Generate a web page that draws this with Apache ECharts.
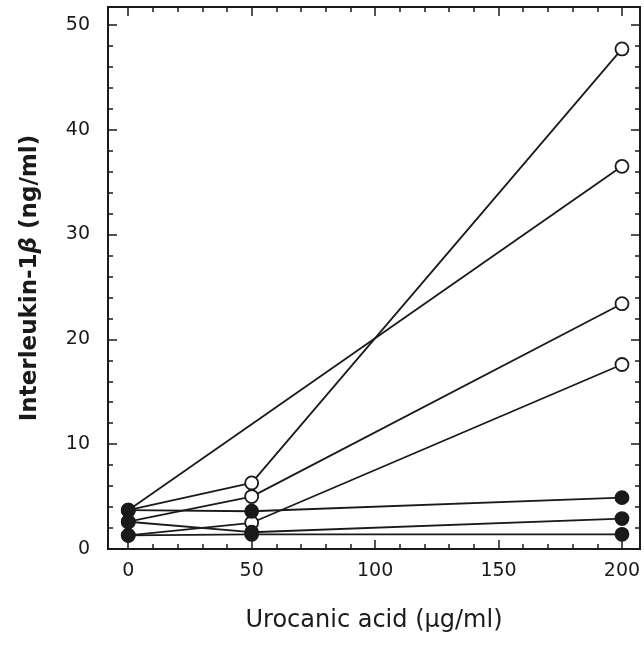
<!DOCTYPE html>
<html>
<head>
<meta charset="utf-8">
<script src="https://cdn.jsdelivr.net/npm/echarts@6/dist/echarts.min.js"></script>
<style>
  html, body { margin: 0; padding: 0; background: #fff; }
  #chart { width: 644px; height: 646px; }
</style>
</head>
<body>
<div id="chart"></div>
<script>
// x positions (urocanic acid, ug/ml)
var doses = [0, 50, 200];

// open circle donors (null = no point at that dose)
var open1 = [3.7, 6.3, 47.7];
var open2 = [3.7, null, 36.5];
var open3 = [2.6, 5.0, 23.4];
var open4 = [1.3, 2.5, 17.6];

// filled circle donors
var filled1 = [3.7, 3.6, 4.9];
var filled2 = [2.6, 1.6, 2.9];
var filled3 = [1.3, 1.4, 1.4];

var xMajor = [0, 50, 100, 150, 200];
var xMinor = [10, 20, 30, 40, 60, 70, 80, 90, 110, 120, 130, 140, 160, 170, 180, 190];
var yMajor = [0, 10, 20, 30, 40, 50];
var yMinor = [2, 4, 6, 8, 12, 14, 16, 18, 22, 24, 26, 28, 32, 34, 36, 38, 42, 44, 46, 48];

var FONT = 'DejaVu Sans';
var INK = '#1a1a1a';

function toPoints(vals) {
	var pts = [];
	for (var i = 0; i < doses.length; i++) {
		if (vals[i] !== null) pts.push([doses[i], vals[i]]);
	}
	return pts;
}

function makeSeries(vals, filled) {
	return {
		type: 'line',
		data: toPoints(vals),
		symbol: 'circle',
		symbolSize: 13,
		showAllSymbol: true,
		lineStyle: { color: INK, width: 1.8 },
		itemStyle: {
			color: filled ? INK : '#fff',
			borderColor: INK,
			borderWidth: 1.8
		},
		z: filled ? 4 : 3
	};
}

// axis that only carries a set of ticks (inner ticks on all four sides)
function tickAxis(kind, pos, values, len) {
	var ax = {
		type: 'value',
		position: pos,
		axisLine: { show: false, onZero: false },
		axisTick: { show: true, inside: true, length: len, customValues: values,
			lineStyle: { color: INK, width: 1.5 } },
		axisLabel: { show: false },
		splitLine: { show: false }
	};
	if (kind == 'x') { ax.min = -8.2; ax.max = 207.3; }
	else { ax.min = 0; ax.max = 51.7; }
	return ax;
}

var chart = echarts.init(document.getElementById('chart'));

var xMain = tickAxis('x', 'bottom', xMajor, 9);
xMain.axisLabel = { show: true, customValues: xMajor, margin: 13,
	fontFamily: FONT, fontSize: 19, color: INK };
xMain.name = 'Urocanic acid (\u03bcg/ml)';
xMain.nameLocation = 'middle';
xMain.nameGap = 60;
xMain.nameTextStyle = { fontFamily: FONT, fontSize: 24, color: INK };

var yMain = tickAxis('y', 'left', yMajor, 9);
yMain.axisLabel = { show: true, customValues: yMajor, margin: 18,
	fontFamily: FONT, fontSize: 19, color: INK };
yMain.name = 'Interleukin-1{b|\u03b2} (ng/ml)';
yMain.nameLocation = 'middle';
yMain.nameGap = 66;
yMain.nameTextStyle = { fontFamily: FONT, fontSize: 23, fontWeight: 'bold', color: INK,
	rich: { b: { fontFamily: FONT, fontSize: 23, fontWeight: 'bold', fontStyle: 'italic', color: INK } } };

var option = {
	animation: false,
	backgroundColor: '#fff',
	grid: {
		left: 108, right: 4, top: 7, bottom: 97,
		show: true, borderColor: INK, borderWidth: 2, backgroundColor: 'transparent'
	},
	xAxis: [
		xMain,
		tickAxis('x', 'bottom', xMinor, 5),
		tickAxis('x', 'top', xMajor, 9),
		tickAxis('x', 'top', xMinor, 5)
	],
	yAxis: [
		yMain,
		tickAxis('y', 'left', yMinor, 5),
		tickAxis('y', 'right', yMajor, 9),
		tickAxis('y', 'right', yMinor, 5)
	],
	series: [
		makeSeries(open1, false),
		makeSeries(open2, false),
		makeSeries(open3, false),
		makeSeries(open4, false),
		makeSeries(filled1, true),
		makeSeries(filled2, true),
		makeSeries(filled3, true)
	]
};

chart.setOption(option);
</script>
</body>
</html>
